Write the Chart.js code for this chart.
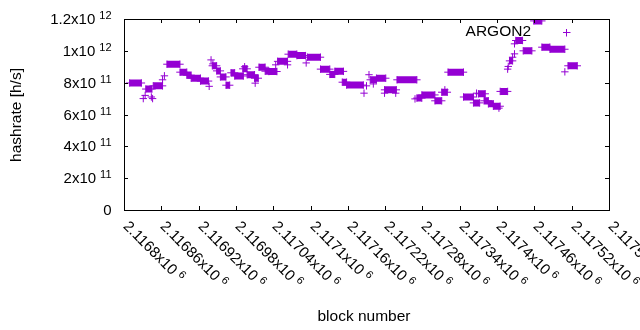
<!DOCTYPE html>
<html>
<head>
<meta charset="utf-8">
<script src="https://cdn.jsdelivr.net/npm/chart.js@4"></script>
<style>
  html, body { margin: 0; padding: 0; background: #fff; }
  #chart { display: block; }
</style>
</head>
<body>
<canvas id="chart" width="640" height="330"></canvas>
<script>
// runs of blocks that share one hashrate value (drawn as dense "+" bands)
const runStart = [
  2116809, 2116835, 2116847, 2116869, 2116890, 2116901, 2116908, 2116923,
  2116942, 2116949, 2116955, 2116964, 2116972, 2116978, 2116991, 2116998,
  2117010, 2117017, 2117027, 2117033, 2117047, 2117064, 2117078, 2117095,
  2117116, 2117131, 2117139, 2117151, 2117158, 2117196, 2117206, 2117219,
  2117239, 2117271, 2117279, 2117300, 2117311, 2117321, 2117346, 2117362,
  2117370, 2117379, 2117386, 2117394, 2117405, 2117420, 2117430, 2117442,
  2117459, 2117472, 2117485, 2117514,
];
const runEnd = [
  2116828, 2116845, 2116862, 2116890, 2116901, 2116908, 2116923, 2116936,
  2116949, 2116955, 2116964, 2116970, 2116978, 2116992, 2116998, 2117010,
  2117016, 2117027, 2117033, 2117046, 2117063, 2117078, 2117092, 2117116,
  2117131, 2117139, 2117153, 2117158, 2117185, 2117206, 2117221, 2117238,
  2117271, 2117279, 2117300, 2117311, 2117320, 2117346, 2117362, 2117372,
  2117381, 2117386, 2117394, 2117405, 2117417, 2117425, 2117441, 2117456,
  2117472, 2117485, 2117509, 2117529,
];
const runValue = [
  7.98e11, 7.6e11, 7.8e11, 9.16e11, 8.66e11, 8.47e11, 8.28e11, 8.1e11,
  9.06e11, 8.74e11, 8.36e11, 7.84e11, 8.62e11, 8.42e11, 8.87e11, 8.5e11,
  8.28e11, 8.97e11, 8.72e11, 8.7e11, 9.34e11, 9.79e11, 9.7e11, 9.6e11,
  8.85e11, 8.52e11, 8.71e11, 8.03e11, 7.85e11, 8.18e11, 8.28e11, 7.55e11,
  8.18e11, 7.03e11, 7.23e11, 6.86e11, 7.4e11, 8.66e11, 7.1e11, 6.73e11,
  7.3e11, 6.86e11, 6.67e11, 6.52e11, 7.45e11, 9.37e11, 10.65e11, 10.0e11,
  11.88e11, 10.23e11, 10.1e11, 9.06e11,
];

// single blocks that stand apart
const pointBlock = [
  2116831, 2116834, 2116844, 2116846, 2116862, 2116865, 2116937, 2116940,
  2116943, 2116994, 2117011, 2117044, 2117063, 2117093, 2117186, 2117190,
  2117194, 2117201, 2117219, 2117237, 2117268, 2117316, 2117367, 2117403,
  2117417, 2117418, 2117425, 2117428, 2117428, 2117509,
];
const pointValue = [
  7.0e11, 7.2e11, 7.1e11, 7.0e11, 8.18e11, 8.43e11, 7.77e11, 9.43e11,
  9.18e11, 9.0e11, 7.97e11, 9.12e11, 9.12e11, 9.24e11, 7.34e11, 7.8e11,
  8.5e11, 7.92e11, 7.34e11, 7.34e11, 6.98e11, 7.55e11, 7.34e11, 6.4e11,
  8.85e11, 9.02e11, 9.6e11, 9.81e11, 10.44e11, 8.68e11,
];

const xTicks = [
  2116800, 2116860, 2116920, 2116980, 2117040, 2117100, 2117160,
  2117220, 2117280, 2117340, 2117400, 2117460, 2117520, 2117580,
];
const yTicks = [0, 2e11, 4e11, 6e11, 8e11, 1e12, 1.2e12];

const seriesLabel = 'ARGON2';
const PURPLE = '#9400d3';
const FONT = '"Liberation Sans", Arial, sans-serif';

const runData = [];
runStart.forEach((s, i) => {
  runData.push({ x: s, y: runValue[i] });
  runData.push({ x: runEnd[i], y: runValue[i] });
  runData.push({ x: runEnd[i], y: null });
});
const pointData = pointBlock.map((b, i) => ({ x: b, y: pointValue[i] }));

// splits 2.1168e6 into ['2.1168', 6]
const sciParts = (v) => {
  if (v === 0) return ['0', null];
  const exp = Math.floor(Math.log10(Math.abs(v)) + 1e-9);
  const mant = parseFloat((v / Math.pow(10, exp)).toFixed(6));
  return [`${mant}x10`, exp];
};

const gnuplotFrame = {
  id: 'gnuplotFrame',
  afterDraw(chart) {
    const { ctx, chartArea: a, scales } = chart;
    const xs = scales.x;
    const ys = scales.y;
    ctx.save();
    ctx.strokeStyle = '#000';
    ctx.lineWidth = 1;
    ctx.strokeRect(Math.round(a.left) + 0.5, Math.round(a.top) + 0.5,
      Math.round(a.right - a.left), Math.round(a.bottom - a.top));

    ctx.fillStyle = '#000';
    // y ticks and labels
    yTicks.forEach((v) => {
      const y = Math.round(ys.getPixelForValue(v)) + 0.5;
      ctx.beginPath();
      ctx.moveTo(a.left, y); ctx.lineTo(a.left + 4, y);
      ctx.moveTo(a.right, y); ctx.lineTo(a.right - 4, y);
      ctx.stroke();
      const [m, e] = sciParts(v);
      const right = a.left - 12.5;
      ctx.textBaseline = 'middle';
      ctx.textAlign = 'right';
      if (e === null) {
        ctx.font = `15px ${FONT}`;
        ctx.fillText(m, right, y);
      } else {
        ctx.font = `11px ${FONT}`;
        const ew = ctx.measureText(String(e)).width;
        ctx.fillText(String(e), right, y - 4);
        ctx.font = `15px ${FONT}`;
        ctx.fillText(m, right - ew - 4, y);
      }
    });

    // x ticks and rotated labels
    xTicks.forEach((v) => {
      const x = Math.round(xs.getPixelForValue(v)) + 0.5;
      ctx.beginPath();
      ctx.moveTo(x, a.bottom); ctx.lineTo(x, a.bottom - 4);
      ctx.moveTo(x, a.top); ctx.lineTo(x, a.top + 4);
      ctx.stroke();
      const [m, e] = sciParts(v);
      ctx.save();
      ctx.translate(x + 1, a.bottom + 14);
      ctx.rotate(Math.PI / 4);
      ctx.textAlign = 'left';
      ctx.textBaseline = 'middle';
      ctx.font = `15px ${FONT}`;
      ctx.fillText(m, 0, 0);
      const mw = ctx.measureText(m).width;
      ctx.font = `11px ${FONT}`;
      ctx.fillText(String(e), mw + 4, -4);
      ctx.restore();
    });

    // axis titles
    ctx.font = `15.5px ${FONT}`;
    ctx.textAlign = 'center';
    ctx.textBaseline = 'middle';
    ctx.fillText('block number', 364, 317);
    ctx.save();
    ctx.translate(17, 115);
    ctx.rotate(-Math.PI / 2);
    ctx.fillText('hashrate [h/s]', 0, 0);
    ctx.restore();

    // key: label + sample marker
    ctx.textAlign = 'right';
    ctx.fillText(seriesLabel, 531, 32);
    ctx.strokeStyle = PURPLE;
    ctx.beginPath();
    ctx.moveTo(563, 32.5); ctx.lineTo(570.5, 32.5);
    ctx.moveTo(566.5, 29); ctx.lineTo(566.5, 36.5);
    ctx.stroke();
    ctx.restore();
  },
};

new Chart(document.getElementById('chart'), {
  type: 'scatter',
  data: {
    datasets: [
      {
        label: seriesLabel,
        data: runData,
        showLine: true,
        spanGaps: false,
        borderColor: PURPLE,
        backgroundColor: PURPLE,
        borderWidth: 7,
        borderCapStyle: 'butt',
        pointStyle: 'cross',
        pointRadius: 3.7,
        pointBorderWidth: 1,
        pointBorderColor: PURPLE,
      },
      {
        label: seriesLabel,
        data: pointData,
        borderColor: PURPLE,
        backgroundColor: PURPLE,
        pointStyle: 'cross',
        pointRadius: 3.7,
        pointBorderWidth: 1,
      },
    ],
  },
  options: {
    responsive: false,
    animation: false,
    layout: { padding: { left: 124, right: 31, top: 19, bottom: 120 } },
    plugins: { legend: { display: false }, tooltip: { enabled: false } },
    scales: {
      x: { type: 'linear', min: 2116800, max: 2117580, display: false },
      y: { min: 0, max: 1.2e12, display: false },
    },
  },
  plugins: [gnuplotFrame],
});
</script>
</body>
</html>
